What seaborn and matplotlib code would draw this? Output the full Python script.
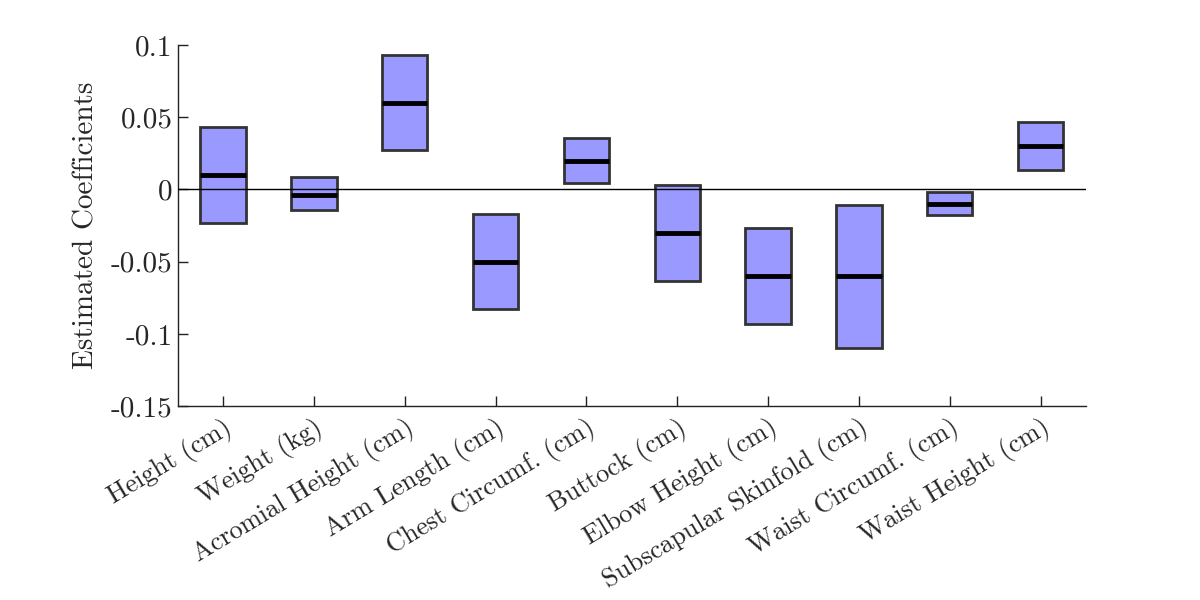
import numpy as np
import pandas as pd
import matplotlib
matplotlib.use("Agg")
import matplotlib.pyplot as plt
import seaborn as sns

# coefficient estimates: lower bound, estimate, upper bound
names = ["Height (cm)", "Weight (kg)", "Acromial Height (cm)", "Arm Length (cm)",
         "Chest Circumf. (cm)", "Buttock (cm)", "Elbow Height (cm)",
         "Subscapular Skinfold (cm)", "Waist Circumf. (cm)", "Waist Height (cm)"]
lower = [-0.023, -0.0145, 0.027, -0.083, 0.0045, -0.063, -0.093, -0.110, -0.018, 0.0135]
coef = [0.010, -0.0035, 0.060, -0.050, 0.020, -0.030, -0.060, -0.060, -0.010, 0.030]
upper = [0.043, 0.0085, 0.093, -0.017, 0.0355, 0.003, -0.027, -0.011, -0.0015, 0.0465]

yticks = [-0.15, -0.1, -0.05, 0, 0.05, 0.1]
ytick_labels = ["-0.15", "-0.1", "-0.05", "0", "0.05", "0.1"]

# five points per variable so the quartiles land on the bounds and the median on the estimate
rows = []
for n, lo, c, hi in zip(names, lower, coef, upper):
    for v in (lo, lo, c, hi, hi):
        rows.append({"var": n, "val": v})
df = pd.DataFrame(rows)

sns.set_style("white")
plt.rcParams["font.family"] = ["cmr10", "DejaVu Serif"]
plt.rcParams["axes.unicode_minus"] = False
plt.rcParams["mathtext.fontset"] = "cm"

fig, ax = plt.subplots(figsize=(12, 6), dpi=100)
fig.subplots_adjust(left=0.148, right=0.905, top=0.925, bottom=0.323)

sns.boxplot(data=df, x="var", y="val", order=names, ax=ax, whis=0, width=0.5,
            color="#9999ff", saturation=1, showfliers=False, showcaps=False,
            boxprops=dict(edgecolor="#333333", linewidth=2),
            whiskerprops=dict(linewidth=0),
            medianprops=dict(color="black", linewidth=3.5))

ax.axhline(0, color="black", linewidth=1, zorder=10)

ax.set_xlim(-0.5, len(names) - 0.5)
ax.set_ylim(-0.15, 0.1)
ax.set_yticks(yticks)
ax.set_yticklabels(ytick_labels)
ax.set_xlabel("")
ax.set_ylabel("Estimated Coefficients", fontsize=21, labelpad=8)
ax.tick_params(axis="y", direction="in", length=7, width=1, labelsize=21,
               left=True, color="#222222")
ax.tick_params(axis="x", direction="in", length=7, width=1, labelsize=19,
               bottom=True, color="#222222", pad=6)
plt.setp(ax.get_xticklabels(), rotation=31, ha="right", rotation_mode="anchor")

for s in ["top", "right"]:
    ax.spines[s].set_visible(False)
for s in ["left", "bottom"]:
    ax.spines[s].set_color("#222222")
    ax.spines[s].set_linewidth(1)

fig.savefig("out.png", dpi=100)
